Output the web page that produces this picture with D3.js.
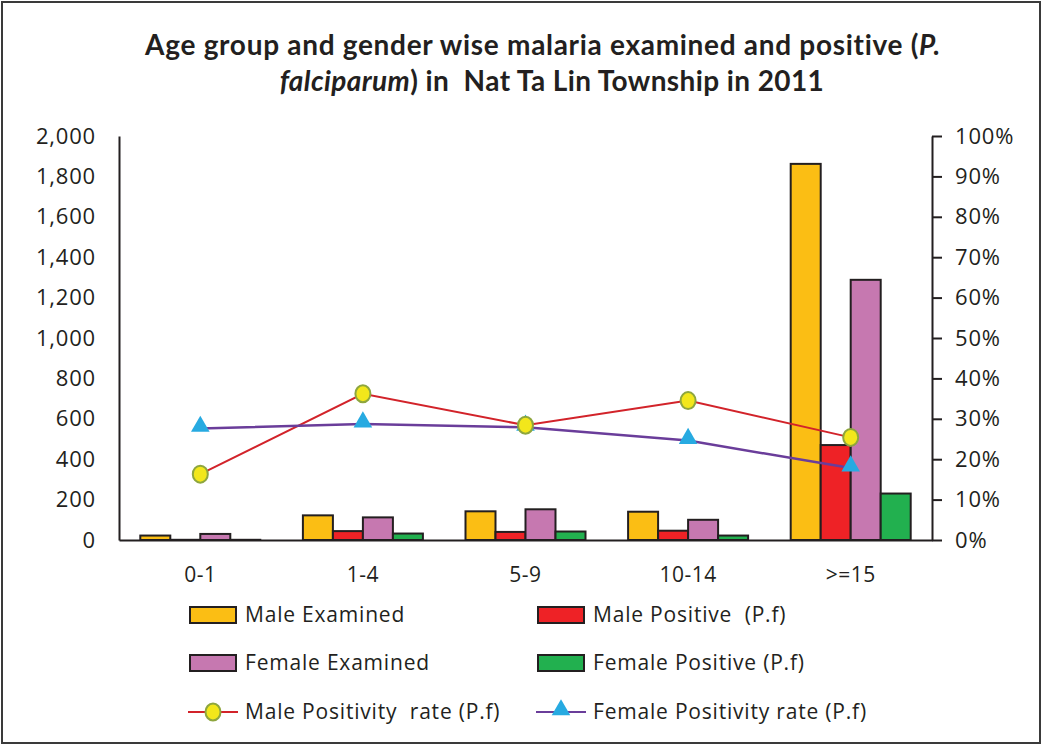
<!DOCTYPE html>
<html>
<head>
<meta charset="utf-8">
<script src="https://cdn.jsdelivr.net/npm/d3@7"></script>
<style>
  body { margin: 0; background: #fff; }
  svg text { fill: #231f20; font-family: 'Open Sans', sans-serif; }
</style>
</head>
<body>
<script>
const ageGroups = ['0-1', '1-4', '5-9', '10-14', '>=15'];
const maleExamined = [22, 122, 142, 140, 1862];
const malePositive = [1, 44, 40, 46, 470];
const femaleExamined = [30, 112, 152, 100, 1288];
const femalePositive = [1, 32, 42, 22, 230];
const maleRate = [0.163, 0.362, 0.284, 0.345, 0.254];
const femaleRate = [0.276, 0.287, 0.279, 0.246, 0.178];
const leftTicks = [0, 200, 400, 600, 800, 1000, 1200, 1400, 1600, 1800, 2000];

const width = 1042;
const height = 745;

const barSeries = [
    {name: 'Male Examined', values: maleExamined, color: '#fbbe14'},
    {name: 'Male Positive\u00a0\u00a0(P.f)', values: malePositive, color: '#ee2226'},
    {name: 'Female Examined', values: femaleExamined, color: '#c678b0'},
    {name: 'Female Positive (P.f)', values: femalePositive, color: '#22b04f'}
];

const svg = d3.select('body')
    .append('svg')
    .attr('width', width)
    .attr('height', height);

// frame
svg.append('rect')
    .attr('x', 2).attr('y', 2)
    .attr('width', width - 4).attr('height', height - 4)
    .attr('fill', 'none')
    .attr('stroke', '#3a3a3a')
    .attr('stroke-width', 2);

// title
const title = svg.append('text')
    .attr('text-anchor', 'middle')
    .style('font-family', 'Lato')
    .style('font-weight', 'bold')
    .style('font-size', '28px');
title.append('tspan').attr('x', 543).attr('y', 55)
    .style('letter-spacing', '0.7px')
    .text('Age group and gender wise malaria examined and positive (')
    .append('tspan').style('font-style', 'italic').text('P.');
const l2 = title.append('tspan').attr('x', 552).attr('y', 91).style('letter-spacing', '0.4px');
l2.append('tspan').style('font-style', 'italic').text('falciparum');
l2.append('tspan').text(')\u00a0in\u00a0\u00a0Nat Ta Lin Township in 2011');

const x0 = d3.scaleBand()
    .domain(ageGroups)
    .range([119, 932])
    .padding(0);

const x1 = d3.scaleBand()
    .domain(barSeries.map(s => s.name))
    .range([0, 120])
    .padding(0);

const yLeft = d3.scaleLinear().domain([0, 2000]).range([540, 136]);
const yRight = d3.scaleLinear().domain([0, 1]).range([540, 136]);

const groupOffset = (x0.bandwidth() - 120) / 2;

// bars
const groups = svg.selectAll('.group')
    .data(ageGroups)
    .enter()
    .append('g')
    .attr('transform', d => 'translate(' + (x0(d) + groupOffset) + ',0)');

groups.selectAll('rect')
    .data((d, i) => barSeries.map(s => ({name: s.name, color: s.color, v: s.values[i]})))
    .enter()
    .append('rect')
    .attr('x', d => x1(d.name))
    .attr('y', d => yLeft(d.v))
    .attr('width', x1.bandwidth())
    .attr('height', d => yLeft(0) - yLeft(d.v))
    .attr('fill', d => d.color)
    .attr('stroke', '#231f20')
    .attr('stroke-width', 2);

// axes
const styleText = g => g.selectAll('text')
    .style('font-size', '22px')
    .style('font-family', 'Open Sans')
    .style('letter-spacing', '0.8px');

svg.append('g')
    .attr('transform', 'translate(119,0)')
    .call(d3.axisLeft(yLeft).tickValues(leftTicks).tickSize(0).tickPadding(23).tickFormat(d3.format(',')))
    .call(g => g.select('.domain').attr('stroke', '#231f20').attr('stroke-width', 2))
    .call(styleText);

svg.append('g')
    .attr('transform', 'translate(932,0)')
    .call(d3.axisRight(yRight).ticks(10).tickSizeInner(10).tickSizeOuter(0).tickPadding(13).tickFormat(d3.format('.0%')))
    .call(g => g.select('.domain').attr('stroke', '#231f20').attr('stroke-width', 2))
    .call(g => g.selectAll('line').attr('stroke', '#231f20').attr('stroke-width', 2))
    .call(styleText);

svg.append('g')
    .attr('transform', 'translate(0,540)')
    .call(d3.axisBottom(x0).tickSize(0).tickPadding(27))
    .call(g => g.select('.domain').attr('stroke', '#231f20').attr('stroke-width', 2))
    .call(g => g.selectAll('text').style('font-size', '21px').style('font-family', 'Open Sans').style('letter-spacing', '0.5px'));

// lines
const cx = d => x0(d) + x0.bandwidth() / 2;
const line = d3.line().x(d => cx(d.g)).y(d => yRight(d.v));

const maleData = ageGroups.map((g, i) => ({g: g, v: maleRate[i]}));
const femaleData = ageGroups.map((g, i) => ({g: g, v: femaleRate[i]}));

svg.append('path')
    .datum(maleData)
    .attr('d', line)
    .attr('fill', 'none')
    .attr('stroke', '#d2232a')
    .attr('stroke-width', 2);

svg.append('path')
    .datum(femaleData)
    .attr('d', line)
    .attr('fill', 'none')
    .attr('stroke', '#6a3d9a')
    .attr('stroke-width', 2.5);

const triangle = d3.symbol().type(d3.symbolTriangle).size(150);

svg.selectAll('.tri')
    .data(femaleData)
    .enter()
    .append('path')
    .attr('d', triangle)
    .attr('transform', d => 'translate(' + cx(d.g) + ',' + (yRight(d.v) - 2) + ')')
    .attr('fill', '#27aae1');

svg.selectAll('.dot')
    .data(maleData)
    .enter()
    .append('ellipse')
    .attr('cx', d => cx(d.g))
    .attr('cy', d => yRight(d.v))
    .attr('rx', 7.5)
    .attr('ry', 8.5)
    .attr('fill', '#f2e71b')
    .attr('stroke', '#8ea63e')
    .attr('stroke-width', 2);

// legend
const legendItems = [
    {type: 'bar', s: barSeries[0], x: 190, y: 615},
    {type: 'bar', s: barSeries[1], x: 538, y: 615},
    {type: 'bar', s: barSeries[2], x: 190, y: 663},
    {type: 'bar', s: barSeries[3], x: 538, y: 663},
    {type: 'male', name: 'Male Positivity\u00a0\u00a0rate (P.f)', x: 190, y: 712},
    {type: 'female', name: 'Female Positivity rate (P.f)', x: 538, y: 712}
];

const legend = svg.append('g');
legendItems.forEach(it => {
    const g = legend.append('g').attr('transform', 'translate(' + it.x + ',' + it.y + ')');
    if (it.type === 'bar') {
        g.append('rect')
            .attr('x', 0).attr('y', -8)
            .attr('width', 46).attr('height', 16)
            .attr('fill', it.s.color)
            .attr('stroke', '#231f20')
            .attr('stroke-width', 2);
    } else {
        g.append('line')
            .attr('x1', -2).attr('x2', 48)
            .attr('y1', 0).attr('y2', 0)
            .attr('stroke', it.type === 'male' ? '#d2232a' : '#6a3d9a')
            .attr('stroke-width', 2);
        if (it.type === 'male') {
            g.append('ellipse').attr('cx', 23).attr('cy', 0).attr('rx', 7.5).attr('ry', 8.5)
                .attr('fill', '#f2e71b').attr('stroke', '#8ea63e').attr('stroke-width', 2);
        } else {
            g.append('path').attr('d', triangle).attr('transform', 'translate(23,-2)').attr('fill', '#27aae1');
        }
    }
    g.append('text')
        .attr('x', 55)
        .attr('y', 7)
        .style('font-size', '21px')
        .style('letter-spacing', '0.8px')
        .text(it.s ? it.s.name : it.name);
});
</script>
</body>
</html>
